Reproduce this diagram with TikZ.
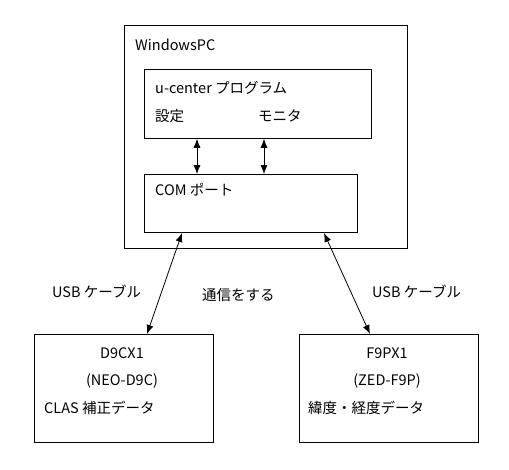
\documentclass[tikz,border=0pt]{standalone}
\usepackage{fontspec}
\setmainfont{Noto Sans CJK JP}
\usetikzlibrary{arrows.meta}
\begin{document}
\begin{tikzpicture}[x=1pt,y=-1pt,
  box/.style={draw,line width=0.8pt,inner sep=0pt,anchor=north west},
  lbl/.style={inner sep=0pt,font=\fontsize{14.5}{16}\selectfont},
  conn/.style={line width=0.8pt,{Latex[length=9pt,width=7pt]}-{Latex[length=9pt,width=7pt]}}]
\useasboundingbox (0,0) rectangle (509,469);
\node[box,minimum width=283pt,minimum height=223pt] (pc) at (124,25) {};
\node[box,minimum width=227pt,minimum height=69pt] (uc) at (144,69) {};
\node[box,minimum width=213pt,minimum height=58pt] (com) at (144,174) {};
\node[box,minimum width=179pt,minimum height=108pt] (d9) at (34,334) {};
\node[box,minimum width=179pt,minimum height=108pt] (f9) at (299,334) {};
% texts
\node[lbl,anchor=west] (tpc) at (135,45) {WindowsPC};
\node[lbl,anchor=west] (tuc) at (155,88) {u-center プログラム};
\node[lbl,anchor=west] (tset) at (155,116) {設定};
\node[lbl,anchor=west] (tmon) at (258,116) {モニタ};
\node[lbl,anchor=west] (tcom) at (155,190) {COM ポート};
\node[lbl,anchor=west] (tusb1) at (52,292) {USB ケーブル};
\node[lbl,anchor=west] (tcomm) at (202,295) {通信をする};
\node[lbl,anchor=west] (tusb2) at (372,292) {USB ケーブル};
\node[lbl] (td9a) at (122,353) {D9CX1};
\node[lbl] (td9b) at (122,381) {(NEO-D9C)};
\node[lbl,anchor=west] (td9c) at (44,408) {CLAS 補正データ};
\node[lbl] (tf9a) at (387,353) {F9PX1};
\node[lbl] (tf9b) at (387,381) {(ZED-F9P)};
\node[lbl,anchor=west] (tf9c) at (308,408) {緯度・経度データ};
% connectors
\draw[conn] (uc.south west -| 197,0) -- (com.north west -| 197,0);
\draw[conn] (uc.south west -| 264,0) -- (com.north west -| 264,0);
\draw[conn] (182,233) -- (d9.north west -| 147,0);
\draw[conn] (324,233) -- (f9.north west -| 370,0);
\end{tikzpicture}
\end{document}
